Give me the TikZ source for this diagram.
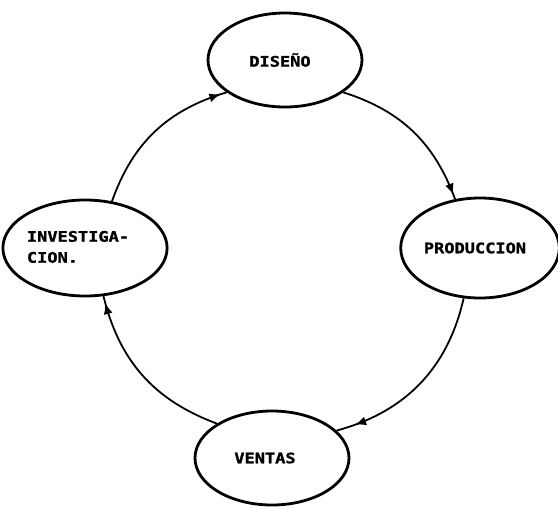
\documentclass[tikz,border=0pt]{standalone}
\usepackage{fontspec}
\usepackage{graphicx}
\newfontfamily\dotfont[BoldFeatures={FakeBold=1.2}]{DejaVu Sans Mono}
\usetikzlibrary{shapes.geometric,arrows.meta,decorations.markings}
% widened heavy mono lettering, like a dot-matrix printer
\newcommand\dotwide[1]{\scalebox{1.17}[1]{#1}}
\begin{document}
\begin{tikzpicture}[x=1pt,y=-1pt,
  stage/.style={ellipse, draw, line width=2.8pt, inner sep=0pt,
    minimum width=154pt, minimum height=94pt,
    font=\dotfont\bfseries\fontsize{14.5}{21}\selectfont},
  flow/.style={line width=1.8pt, postaction={decorate},
    decoration={markings, mark=at position #1 with {\arrow{Latex[length=11pt,width=9pt]}}}}]
\useasboundingbox (0,0) rectangle (558,507);

% the four stages of the cycle
\node[stage] (dis) at (285,60)  {\dotwide{DISEÑO}\hspace*{10pt}};
\node[stage, minimum width=150pt, minimum height=100pt] (pro) at (480,248) {\dotwide{PRODUCCION}\hspace*{10pt}};
\node[stage] (ven) at (272,458) {\dotwide{VENTAS}\hspace*{14pt}};
\node[stage, minimum height=96pt] (inv) at (85,248)
  {\dotwide{\begin{tabular}{@{}l@{}}INVESTIGA-\\CION.\end{tabular}}\hspace*{14pt}};

% clockwise arcs joining them
\draw[flow=0.96] (inv.60)  to[bend left=27] (dis.209);
\draw[flow=0.97] (dis.331) to[bend left=26] (pro.117);
\draw[flow=0.90] (pro.252) to[bend left=31] (ven.23);
\draw[flow=0.96] (ven.148) to[bend left=28] (inv.291);
\end{tikzpicture}
\end{document}
